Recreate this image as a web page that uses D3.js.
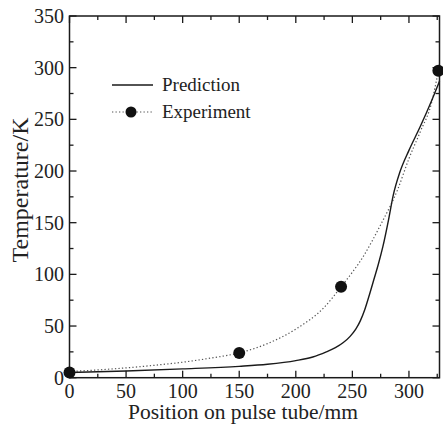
<!DOCTYPE html>
<html>
<head>
<meta charset="utf-8">
<script src="https://cdn.jsdelivr.net/npm/d3@7"></script>
</head>
<body style="margin:0">
<svg id="chart" width="443" height="429"></svg>
<script>
// Model prediction: temperature profile along the pulse tube (mm, K)
const predictionX = [0, 50, 100, 150, 175, 200, 215, 227, 235, 242, 248, 253, 257, 261, 265, 269, 273, 277, 282, 286, 292, 300, 310, 320, 327];
const predictionT = [5, 6.5, 8.5, 11, 13, 16.5, 20, 25, 29, 34, 40, 47, 55, 66, 80, 95, 110, 127, 153, 176, 199, 220, 243, 268, 287];

// Measured temperatures
const experimentX = [0, 150, 240, 326];
const experimentT = [5, 24, 88, 297];

// Smooth trend through the measurements
const trendX = [0, 25, 50, 75, 100, 125, 150, 175, 200, 225, 240, 260, 275, 290, 300, 310, 320, 326];
const trendT = [6, 7.5, 9.5, 12, 15, 19, 24, 33, 47, 68, 88, 118, 148, 182, 212, 238, 266, 297];

const xTicks = [0, 50, 100, 150, 200, 250, 300];
const yTicks = [0, 50, 100, 150, 200, 250, 300, 350];
const xMinor = d3.range(0, 327, 25);
const yMinor = d3.range(0, 351, 25);

const fontFam = "Liberation Serif";

const svg = d3.select("#chart");
const plotL = 69.5, plotR = 439.5, plotT = 16, plotB = 377.7;

const x = d3.scaleLinear().domain([0, 327]).range([plotL, plotR]);
const y = d3.scaleLinear().domain([0, 350]).range([plotB, plotT]);

const ink = "#1a1a1a";
const textInk = "#222";

// Frame
svg.append("rect")
  .attr("x", plotL).attr("y", plotT)
  .attr("width", plotR - plotL).attr("height", plotB - plotT)
  .attr("fill", "none").attr("stroke", ink).attr("stroke-width", 1.5);

// Inward ticks on all four sides
const tickG = svg.append("g").attr("stroke", ink).attr("stroke-width", 1.3);
xMinor.forEach(v => {
  const len = v % 50 === 0 ? 7 : 4;
  tickG.append("line").attr("x1", x(v)).attr("x2", x(v)).attr("y1", plotB).attr("y2", plotB - len);
  tickG.append("line").attr("x1", x(v)).attr("x2", x(v)).attr("y1", plotT).attr("y2", plotT + len);
});
yMinor.forEach(v => {
  const len = v % 50 === 0 ? 7 : 4;
  tickG.append("line").attr("y1", y(v)).attr("y2", y(v)).attr("x1", plotL).attr("x2", plotL + len);
  tickG.append("line").attr("y1", y(v)).attr("y2", y(v)).attr("x1", plotR).attr("x2", plotR - len);
});

// Tick labels
xTicks.forEach(d => {
  svg.append("text")
    .attr("x", x(d)).attr("y", 398)
    .attr("text-anchor", "middle").attr("fill", textInk).attr("font-size", 20)
    .style("font-family", fontFam)
    .text(d);
});
yTicks.forEach(d => {
  svg.append("text")
    .attr("x", 64).attr("y", y(d) + 7)
    .attr("text-anchor", "end").attr("fill", textInk).attr("font-size", 20)
    .style("font-family", fontFam)
    .text(d);
});

// Axis titles
svg.append("text")
  .attr("x", 243).attr("y", 419)
  .attr("text-anchor", "middle").attr("fill", textInk).attr("font-size", 21.5)
  .style("font-family", fontFam)
  .text("Position on pulse tube/mm");
svg.append("text")
  .attr("transform", "translate(28,190) rotate(-90)")
  .attr("text-anchor", "middle").attr("fill", textInk).attr("font-size", 24)
  .style("font-family", fontFam)
  .text("Temperature/K");

const line = d3.line().curve(d3.curveMonotoneX).x(d => x(d[0])).y(d => y(d[1]));

// Trend (dotted)
svg.append("path")
  .datum(d3.zip(trendX, trendT))
  .attr("d", line)
  .attr("fill", "none").attr("stroke", "#555")
  .attr("stroke-width", 1.2).attr("stroke-dasharray", "1.3,2.2");

// Prediction (solid)
svg.append("path")
  .datum(d3.zip(predictionX, predictionT))
  .attr("d", line)
  .attr("fill", "none").attr("stroke", ink).attr("stroke-width", 1.4);

// Experimental points
svg.append("g").selectAll("circle").data(d3.zip(experimentX, experimentT)).join("circle")
  .attr("cx", d => x(d[0])).attr("cy", d => y(d[1]))
  .attr("r", 6).attr("fill", "#111");

// Legend
const lg = svg.append("g");
lg.append("line").attr("x1", 112).attr("x2", 153).attr("y1", 85).attr("y2", 85)
  .attr("stroke", ink).attr("stroke-width", 1.4);
lg.append("text").attr("x", 162).attr("y", 91).attr("fill", textInk).attr("font-size", 19)
  .style("font-family", fontFam).text("Prediction");
lg.append("line").attr("x1", 112).attr("x2", 153).attr("y1", 112).attr("y2", 112)
  .attr("stroke", "#555").attr("stroke-width", 1.2).attr("stroke-dasharray", "1.3,2.2");
lg.append("circle").attr("cx", 131).attr("cy", 112).attr("r", 5.5).attr("fill", "#111");
lg.append("text").attr("x", 162).attr("y", 118).attr("fill", textInk).attr("font-size", 19)
  .style("font-family", fontFam).text("Experiment");
</script>
</body>
</html>
